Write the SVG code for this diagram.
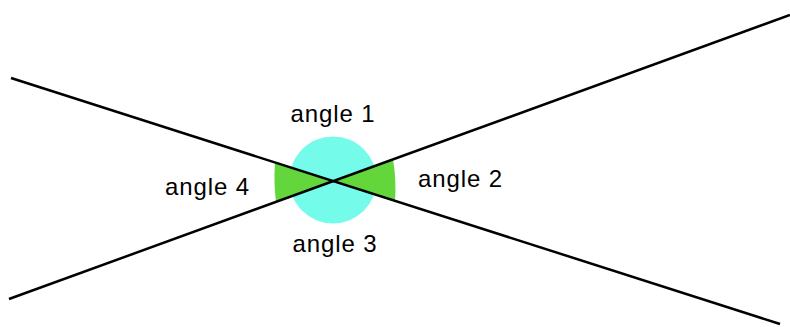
<svg xmlns="http://www.w3.org/2000/svg" width="790" height="327" viewBox="0 0 790 327">
<style>
.lbl{font-family:"Liberation Sans",Arial,Helvetica,sans-serif;font-size:24px;letter-spacing:0.9px;fill:#000}
.ln{stroke:#000;stroke-width:2.5;fill:none;stroke-linecap:butt}
</style>
<rect width="790" height="327" fill="#fff"/>
<g id="angle-circle">
<circle cx="333" cy="180" r="43.5" fill="#74fbea"/>
</g>
<g id="angle-wedges" fill="#62d63a">
<path d="M333,181 L393,159.2 Q396.5,180 395,200.9 Z"/>
<path d="M333,181 L276,202.2 Q273.5,182 275,162.5 Z"/>
</g>
<g id="connectors">
<line class="ln" x1="11" y1="78" x2="780" y2="324"/>
<line class="ln" x1="9" y1="299" x2="790" y2="15"/>
</g>
<g id="label-angle1"><text class="lbl" x="333" y="122" text-anchor="middle">angle 1</text></g>
<g id="label-angle2"><text class="lbl" x="418" y="187">angle 2</text></g>
<g id="label-angle3"><text class="lbl" x="335" y="252" text-anchor="middle">angle 3</text></g>
<g id="label-angle4"><text class="lbl" x="165" y="195">angle 4</text></g>
</svg>
